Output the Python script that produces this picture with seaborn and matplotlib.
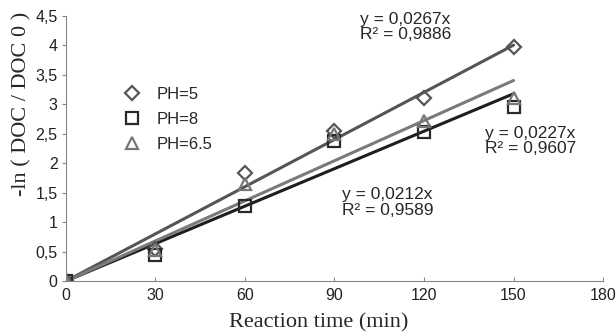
import numpy as np
import pandas as pd
import seaborn as sns
import matplotlib.pyplot as plt

sns.set_style("ticks")
plt.rcParams['font.family'] = ['Liberation Sans', 'DejaVu Sans']

# data
time = [0, 30, 60, 90, 120, 150]
ph5 = [0, 0.55, 1.83, 2.55, 3.10, 3.97]
ph8 = [0, 0.45, 1.27, 2.38, 2.53, 2.95]
ph65 = [0, 0.53, 1.65, 2.50, 2.72, 3.10]
series = ["PH=5", "PH=8", "PH=6.5"]
slopes = [0.0267, 0.0212, 0.0227]
r2 = [0.9886, 0.9589, 0.9607]

df = pd.DataFrame({
    "time": time * 3,
    "value": ph5 + ph8 + ph65,
    "ph": [s for s in series for _ in time],
})
fit = pd.DataFrame({
    "time": [0, 150] * 3,
    "value": [v for s in slopes for v in (0, s * 150)],
    "ph": [s for s in series for _ in range(2)],
})

line_colors = {"PH=5": "#555555", "PH=8": "#1e1e1e", "PH=6.5": "#7a7a7a"}
marker_colors = {"PH=5": "#555555", "PH=8": "#2a2a2a", "PH=6.5": "#777777"}
markers = {"PH=5": "D", "PH=8": "s", "PH=6.5": "^"}
sizes = {"PH=5": 7, "PH=8": 9, "PH=6.5": 9}

fig, ax = plt.subplots(figsize=(6.16, 3.33), dpi=100)
fig.subplots_adjust(left=0.107, right=0.979, top=0.952, bottom=0.156)

for s in series:
    sub = fit[fit["ph"] == s]
    sns.lineplot(data=sub, x="time", y="value", ax=ax, color=line_colors[s],
                 linewidth=2.2, legend=False)

for s in series:
    sub = df[df["ph"] == s]
    ax.plot(sub["time"], sub["value"], linestyle="none", marker=markers[s],
            markersize=sizes[s], markerfacecolor="none",
            markeredgecolor=marker_colors[s], markeredgewidth=1.6, label=s)

ax.legend(loc="upper left", bbox_to_anchor=(0.076, 0.79), frameon=False,
          fontsize=12, handletextpad=0.9, labelspacing=0.62, handlelength=1.2)

ax.text(98.5, 4.57, "y = 0,0267x\nR² = 0,9886", fontsize=12.5, va="top", ha="left", linespacing=1.05)
ax.text(140.5, 2.64, "y = 0,0227x\nR² = 0,9607", fontsize=12.5, va="top", ha="left", linespacing=1.05)
ax.text(92.5, 1.59, "y = 0,0212x\nR² = 0,9589", fontsize=12.5, va="top", ha="left", linespacing=1.05)

ax.set_xlim(0, 180)
ax.set_ylim(0, 4.5)
ax.set_xticks(range(0, 181, 30))
ax.set_yticks(np.arange(0, 4.51, 0.5))
ax.set_yticklabels(["0", "0,5", "1", "1,5", "2", "2,5", "3", "3,5", "4", "4,5"])
ax.tick_params(labelsize=11.5, colors="#222222", length=3, color="#888888")
ax.tick_params(axis="x", direction="in", pad=5)
ax.tick_params(axis="y", direction="out", pad=3)
for side in ["left", "bottom"]:
    ax.spines[side].set_color("#888888")
sns.despine(ax=ax)

ax.set_xlabel("Reaction time (min)", family="Liberation Serif", fontsize=16)
ax.set_ylabel("-ln ( DOC / DOC 0 )", family="Liberation Serif", fontsize=16)
ax.xaxis.set_label_coords(0.47, -0.12)
ax.yaxis.set_label_coords(-0.065, 0.67)

fig.savefig("out.png", dpi=100)
